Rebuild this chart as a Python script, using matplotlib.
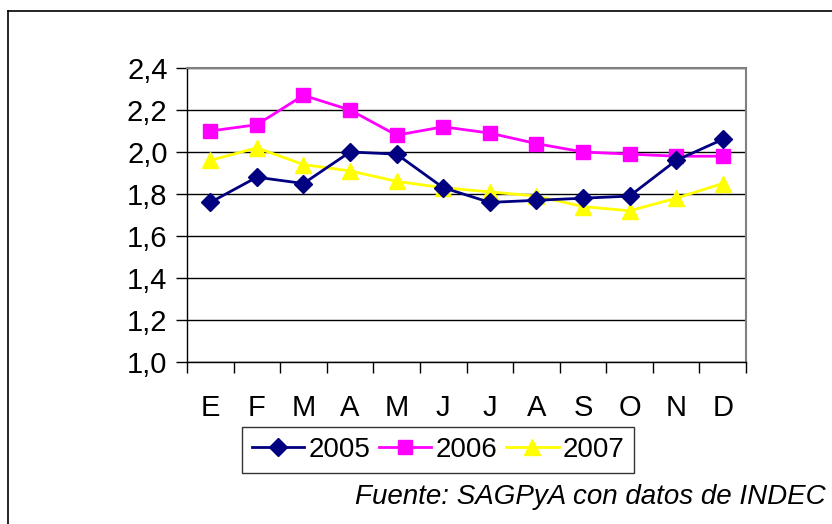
import numpy as np
import matplotlib.pyplot as plt
import matplotlib.ticker as ticker
from matplotlib.lines import Line2D

plt.rcParams['font.family'] = ['Liberation Sans', 'DejaVu Sans']

# data
meses = ['E', 'F', 'M', 'A', 'M', 'J', 'J', 'A', 'S', 'O', 'N', 'D']
v2005 = [1.76, 1.88, 1.85, 2.00, 1.99, 1.83, 1.76, 1.77, 1.78, 1.79, 1.96, 2.06]
v2006 = [2.10, 2.13, 2.27, 2.20, 2.08, 2.12, 2.09, 2.04, 2.00, 1.99, 1.98, 1.98]
v2007 = [1.96, 2.02, 1.94, 1.91, 1.86, 1.83, 1.81, 1.79, 1.74, 1.72, 1.78, 1.85]
yticks = [1.0, 1.2, 1.4, 1.6, 1.8, 2.0, 2.2, 2.4]

fig = plt.figure(figsize=(8.32, 5.24), dpi=100)
ax = fig.add_axes([187/832, 1-362/524, 559/832, 294/524])

x = np.arange(len(meses))
ax.plot(x, v2005, '-', color='#000080', lw=2, marker='D', ms=9,
        mec='#000080', mfc='#000080', label='2005', zorder=5)
ax.plot(x, v2006, '-', color='#FF00FF', lw=2, marker='s', ms=10,
        mec='#FF00FF', mfc='#FF00FF', label='2006', zorder=4)
ax.plot(x, v2007, '-', color='#FFFF00', lw=2, marker='^', ms=12,
        mec='#FFFF00', mfc='#FFFF00', label='2007', zorder=3)

ax.set_xlim(-0.5, len(meses)-0.5)
ax.set_ylim(1.0, 2.4)
ax.set_yticks(yticks)
ax.set_yticklabels([('%.1f' % v).replace('.', ',') for v in yticks], fontsize=21)
ax.grid(axis='y', color='black', lw=1)
ax.set_axisbelow(True)

# category labels centred, ticks at boundaries
ax.xaxis.set_major_locator(ticker.FixedLocator(np.arange(-0.5, len(meses), 1.0)))
ax.xaxis.set_major_formatter(ticker.NullFormatter())
ax.xaxis.set_minor_locator(ticker.FixedLocator(x))
ax.xaxis.set_minor_formatter(ticker.FixedFormatter(meses))
ax.tick_params(axis='x', which='minor', length=0, labelsize=21, pad=23)
ax.tick_params(axis='x', which='major', length=8, width=1, direction='out')
ax.tick_params(axis='y', length=8, width=1, direction='out', pad=6)

for s in ['top', 'right']:
    ax.spines[s].set_color('#808080')
    ax.spines[s].set_linewidth(1.5)
for s in ['left', 'bottom']:
    ax.spines[s].set_color('black')
    ax.spines[s].set_linewidth(1)

leg = fig.legend(loc='center', bbox_to_anchor=(438/832, 1-450/524), ncol=3,
                 fontsize=20, frameon=True, fancybox=False, edgecolor='black',
                 handlelength=1.9, handletextpad=0.15, columnspacing=0.3,
                 borderpad=0.35, borderaxespad=0)
leg.get_frame().set_linewidth(1)

fig.text(826/832, 1-497/524, 'Fuente: SAGPyA con datos de INDEC', fontsize=20,
         style='italic', ha='right', va='center')

# chart frame
fig.add_artist(Line2D([8/832, 8/832], [0, 1-11/524], color='black', lw=1.2,
                      transform=fig.transFigure))
fig.add_artist(Line2D([8/832, 1], [1-11/524, 1-11/524], color='black', lw=1.2,
                      transform=fig.transFigure))

fig.savefig('out.png', dpi=100)
